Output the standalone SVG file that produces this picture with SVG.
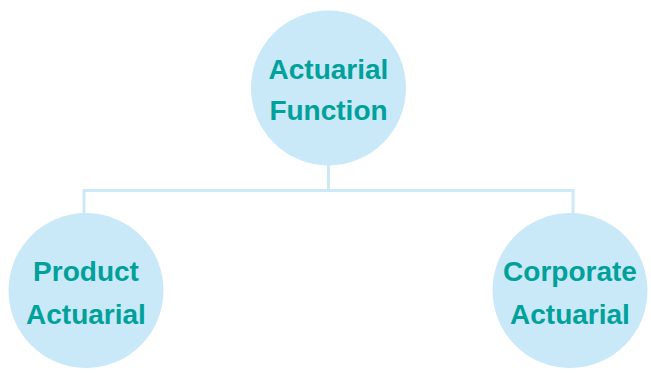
<svg xmlns="http://www.w3.org/2000/svg" width="651" height="377" viewBox="0 0 651 377">
<style>
.node circle{fill:#c9e9f8;}
.node text{fill:#00a09b;font-family:"Liberation Sans",Arial,sans-serif;font-weight:bold;font-size:28px;text-anchor:middle;}
.conn path{fill:none;stroke:#cbe9f7;stroke-width:3;}
</style>
<rect width="651" height="377" fill="#ffffff"/>
<g id="connectors" class="conn">
<path d="M328.5 164 V190.5 M84 190.5 H573 M84 189 V215 M573 189 V215"/>
</g>
<g id="actuarial-function" class="node">
<circle cx="328.5" cy="88" r="77.5"/>
<text x="328.5" y="78.5">Actuarial</text>
<text x="328.5" y="120">Function</text>
</g>
<g id="product-actuarial" class="node">
<circle cx="86" cy="290.5" r="77.5"/>
<text x="86" y="280.5">Product</text>
<text x="86" y="324">Actuarial</text>
</g>
<g id="corporate-actuarial" class="node">
<circle cx="570" cy="290.5" r="77.5"/>
<text x="570" y="281">Corporate</text>
<text x="570" y="323.5">Actuarial</text>
</g>
</svg>
